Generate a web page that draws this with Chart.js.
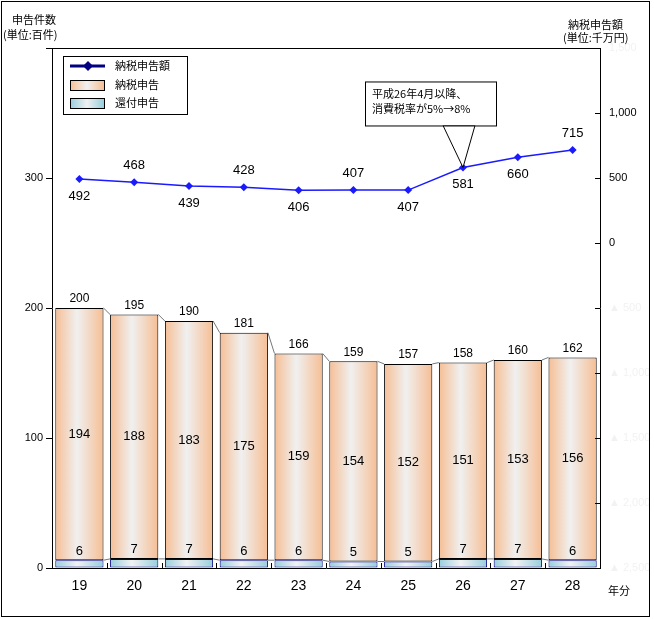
<!DOCTYPE html>
<html>
<head>
<meta charset="utf-8">
<script src="https://cdn.jsdelivr.net/npm/chart.js@4.4.0/dist/chart.umd.min.js"></script>
<style>
  html, body { margin: 0; padding: 0; background: #fff; }
  #wrap { width: 654px; height: 619px; position: relative; }
</style>
</head>
<body>
<div id="wrap"><canvas id="shinkokuChart" width="654" height="619"></canvas></div>
<script>
const nendo = ['19', '20', '21', '22', '23', '24', '25', '26', '27', '28'];
const kanpu = [6, 7, 7, 6, 6, 5, 5, 7, 7, 6];
const nozei = [194, 188, 183, 175, 159, 154, 152, 151, 153, 156];
const goukei = [200, 195, 190, 181, 166, 159, 157, 158, 160, 162];
const nozeiGaku = [492, 468, 439, 428, 406, 407, 407, 581, 660, 715];

const JP = '"Noto Sans CJK JP", sans-serif';
const NUM = '"Liberation Sans", Arial, sans-serif';

// label above (-1) or below (+1) the line point
const lineLabelSide = [1, -1, 1, -1, 1, -1, 1, 1, 1, -1];

function barGrad(context, edge, mid) {
    const chart = context.chart;
    if (!chart.chartArea) return edge;
    const xs = chart.scales.x;
    const cx = xs.getPixelForValue(context.dataIndex);
    const half = xs.width / nendo.length * 0.88 / 2;
    const g = chart.ctx.createLinearGradient(cx - half, 0, cx + half, 0);
    g.addColorStop(0, edge);
    g.addColorStop(0.45, mid);
    g.addColorStop(1, edge);
    return g;
}

const decorPlugin = {
    id: 'decor',
    beforeDraw(chart) {
        const ctx = chart.ctx;
        ctx.save();
        ctx.fillStyle = '#fff';
        ctx.fillRect(0, 0, chart.width, chart.height);
        ctx.restore();
    },
    afterDatasetsDraw(chart) {
        const ctx = chart.ctx;
        const area = chart.chartArea;
        const m0 = chart.getDatasetMeta(0);
        const m1 = chart.getDatasetMeta(1);
        const m2 = chart.getDatasetMeta(2);
        ctx.save();

        // outer frame
        ctx.strokeStyle = '#000';
        ctx.lineWidth = 1;
        ctx.strokeRect(1.5, 1.5, 648, 615);

        // plot top line
        ctx.beginPath();
        ctx.moveTo(area.left, area.top + 0.5);
        ctx.lineTo(area.right, area.top + 0.5);
        ctx.stroke();

        // series connector lines
        ctx.strokeStyle = '#777';
        [m0, m1].forEach(meta => {
            for (let i = 0; i < meta.data.length - 1; i++) {
                const a = meta.data[i], b = meta.data[i + 1];
                ctx.beginPath();
                ctx.moveTo(a.x + a.width / 2, a.y);
                ctx.lineTo(b.x - b.width / 2, b.y);
                ctx.stroke();
            }
        });

        // inward ticks on x axis and right axis
        ctx.strokeStyle = '#000';
        const xs = chart.scales.x;
        const step = xs.width / nendo.length;
        for (let i = 1; i < nendo.length; i++) {
            const x = Math.round(xs.left + step * i) + 0.5;
            ctx.beginPath();
            ctx.moveTo(x, area.bottom);
            ctx.lineTo(x, area.bottom - 5);
            ctx.stroke();
        }
        const y2 = chart.scales.y2;
        y2.ticks.forEach(t => {
            const y = Math.round(y2.getPixelForValue(t.value)) + 0.5;
            ctx.beginPath();
            ctx.moveTo(area.right, y);
            ctx.lineTo(area.right - 5, y);
            ctx.stroke();
        });

        // bar labels
        ctx.fillStyle = '#000';
        ctx.textAlign = 'center';
        ctx.textBaseline = 'middle';
        m1.data.forEach((el, i) => {
            ctx.font = '12px ' + NUM;
            ctx.fillText(String(goukei[i]), el.x, el.y - 9);
            ctx.font = '13px ' + NUM;
            ctx.fillText(String(nozei[i]), el.x, (el.y + el.base) / 2);
            ctx.fillText(String(kanpu[i]), el.x, m0.data[i].y - 9);
        });

        // line labels
        ctx.font = '13px ' + NUM;
        m2.data.forEach((pt, i) => {
            ctx.fillText(String(nozeiGaku[i]), pt.x, pt.y + lineLabelSide[i] * 17);
        });

        // callout for H26
        const p = m2.data[7];
        const bx = p.x - 98, by = p.y - 86, bw = 131, bh = 44;
        ctx.fillStyle = '#fff';
        ctx.beginPath();
        ctx.moveTo(p.x - 20, by + bh);
        ctx.lineTo(p.x, p.y);
        ctx.lineTo(p.x + 12, by + bh);
        ctx.closePath();
        ctx.fill();
        ctx.stroke();
        ctx.fillRect(bx, by, bw, bh);
        ctx.strokeRect(bx + 0.5, by + 0.5, bw, bh);
        ctx.fillStyle = '#000';
        ctx.textAlign = 'left';
        ctx.font = '11px ' + JP;
        ctx.fillText('平成26年4月以降、', bx + 7, by + 12);
        ctx.fillText('消費税率が5%→8%', bx + 7, by + 27);

        // legend
        ctx.fillStyle = '#fff';
        ctx.fillRect(63, 56, 124, 58);
        ctx.strokeRect(63.5, 56.5, 124, 58);
        ctx.strokeStyle = '#000080';
        ctx.lineWidth = 3;
        ctx.beginPath();
        ctx.moveTo(70, 66);
        ctx.lineTo(105, 66);
        ctx.stroke();
        ctx.fillStyle = '#000080';
        ctx.beginPath();
        ctx.moveTo(88, 61);
        ctx.lineTo(93, 66);
        ctx.lineTo(88, 71);
        ctx.lineTo(83, 66);
        ctx.closePath();
        ctx.fill();
        ctx.lineWidth = 1;
        [[80, '#F6BE94', '#F0F0F0'], [98, '#97CEDD', '#F0F0F0']].forEach(([y, edge, mid]) => {
            const g = ctx.createLinearGradient(70, 0, 104, 0);
            g.addColorStop(0, edge);
            g.addColorStop(0.5, mid);
            g.addColorStop(1, edge);
            ctx.fillStyle = g;
            ctx.fillRect(70, y, 34, 10);
            ctx.strokeStyle = '#000';
            ctx.strokeRect(70.5, y + 0.5, 34, 10);
        });
        ctx.fillStyle = '#000';
        ctx.font = '11px ' + JP;
        ctx.fillText('納税申告額', 115, 66);
        ctx.fillText('納税申告', 115, 85);
        ctx.fillText('還付申告', 115, 103);

        // axis titles
        ctx.fillText('申告件数', 12, 20);
        ctx.fillText('(単位:百件)', 3, 35);
        ctx.fillText('納税申告額', 568, 25);
        ctx.fillText('(単位:千万円)', 563, 38);
        ctx.fillText('年分', 608, 591);
        ctx.restore();
    }
};

new Chart(document.getElementById('shinkokuChart'), {
    data: {
        labels: nendo,
        datasets: [
            {
                type: 'bar',
                label: '還付申告',
                data: kanpu,
                backgroundColor: c => barGrad(c, '#97CEDD', '#F2F2F2'),
                borderColor: '#000080',
                borderWidth: 1,
                borderSkipped: false,
                barPercentage: 0.88,
                categoryPercentage: 1,
                yAxisID: 'y'
            },
            {
                type: 'bar',
                label: '納税申告',
                data: nozei,
                backgroundColor: c => barGrad(c, '#F6BE94', '#F0F0F0'),
                borderColor: '#000',
                borderWidth: 1,
                borderSkipped: false,
                barPercentage: 0.88,
                categoryPercentage: 1,
                yAxisID: 'y'
            },
            {
                type: 'line',
                label: '納税申告額',
                data: nozeiGaku,
                borderColor: '#1a1aff',
                backgroundColor: '#1a1aff',
                borderWidth: 1.5,
                pointStyle: 'rectRot',
                pointRadius: 4,
                pointBorderWidth: 0,
                tension: 0,
                yAxisID: 'y2'
            }
        ]
    },
    options: {
        responsive: false,
        animation: false,
        devicePixelRatio: 1,
        layout: { padding: { top: 48, left: 0, right: 0, bottom: 0 } },
        plugins: {
            legend: { display: false },
            tooltip: { enabled: false }
        },
        scales: {
            x: {
                stacked: true,
                grid: { display: false },
                border: { color: '#000', width: 1 },
                ticks: { color: '#000', font: { family: NUM, size: 14 }, padding: 2 },
                afterFit: s => { s.height = 51; }
            },
            y: {
                stacked: true,
                min: 0,
                max: 400,
                ticks: {
                    stepSize: 100,
                    color: '#000',
                    font: { family: NUM, size: 11 },
                    padding: 3,
                    callback: v => (v === 400 ? '' : v)
                },
                grid: { drawOnChartArea: false, tickLength: 6, color: '#000' },
                border: { color: '#000', width: 1 },
                afterFit: s => { s.width = 52; }
            },
            y2: {
                position: 'right',
                min: -2500,
                max: 1500,
                ticks: {
                    stepSize: 500,
                    autoSkip: false,
                    padding: 1,
                    font: { family: NUM, size: 11 },
                    color: c => (c.tick && c.tick.value >= 0 && c.tick.value <= 1000 ? '#000' : '#f2f2f2'),
                    callback: v => (v < 0 ? '▲ ' + Math.abs(v).toLocaleString('en-US') : v.toLocaleString('en-US'))
                },
                grid: { display: false },
                border: { color: '#000', width: 1 },
                afterFit: s => { s.width = 54; }
            }
        }
    },
    plugins: [decorPlugin]
});
</script>
</body>
</html>
